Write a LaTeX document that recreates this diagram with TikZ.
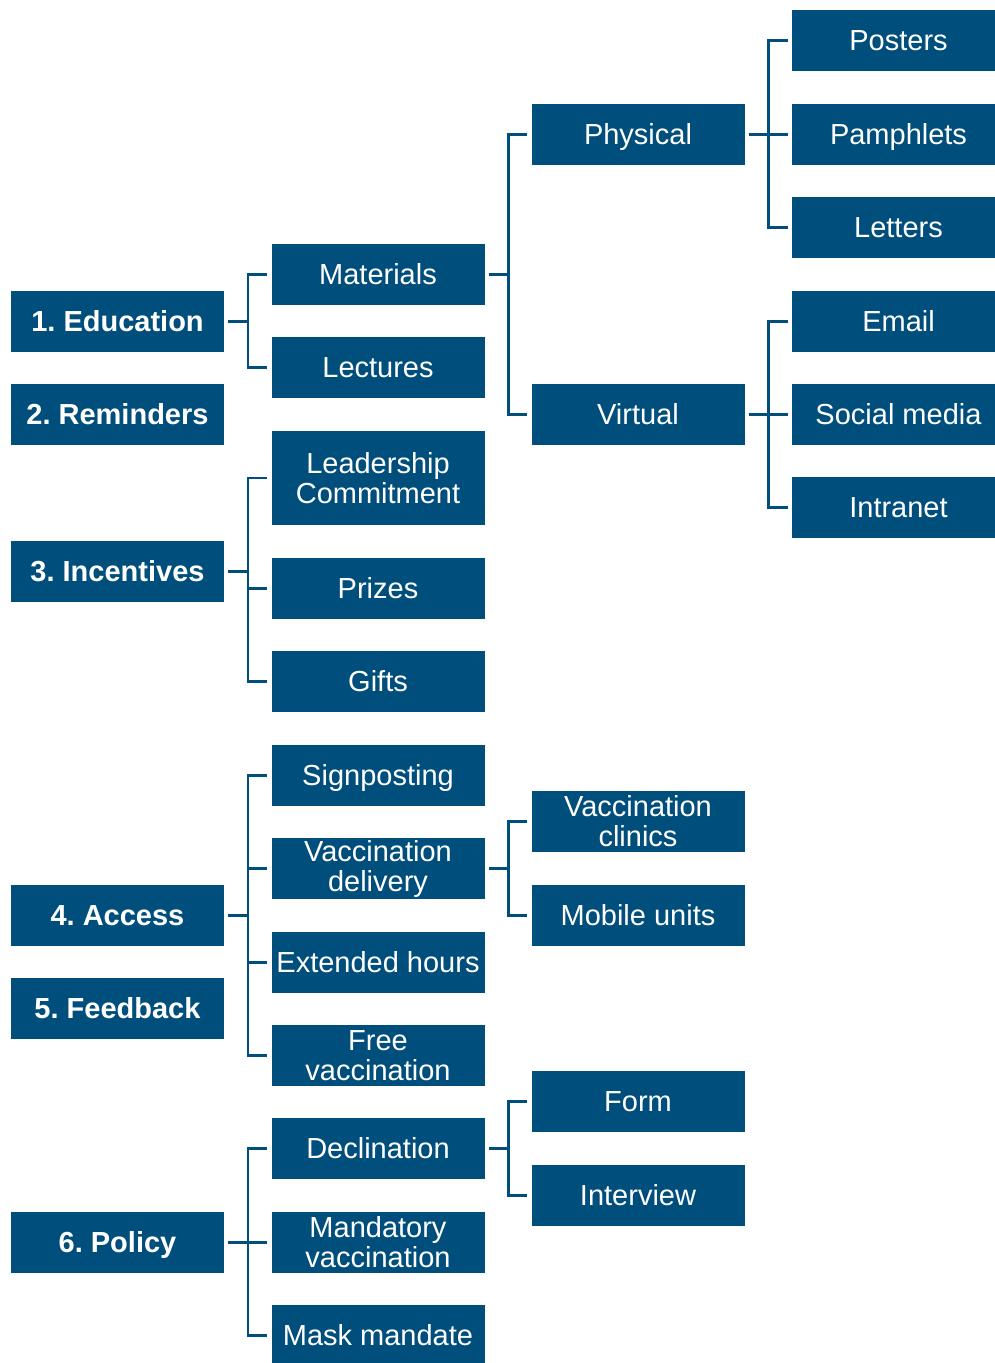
\documentclass[tikz,border=0pt]{standalone}
\usepackage{fontspec}
\setmainfont{Liberation Sans}
\frenchspacing
\definecolor{boxblue}{HTML}{004E7C}
\tikzset{
  tboxm/.style={fill=boxblue, text=white, minimum width=213pt, minimum height=61pt, inner sep=0pt, align=center, font=\fontsize{29}{30}\selectfont},
  tbox/.style={tboxm, text height=20.8pt, text depth=0pt},
  tboxb/.style={tbox, font=\fontsize{29}{30}\selectfont\bfseries},
  conn/.style={draw=boxblue, line width=2.5pt}
}
\newcommand{\branch}[2]{\draw[conn] ([xshift=4pt]#1.east) -- ++(20pt,0) |- ([xshift=-4pt]#2.west);}
\begin{document}
\begin{tikzpicture}[x=1pt,y=-1pt]
\useasboundingbox (0,0) rectangle (995,1363);
\clip (0,0) rectangle (995,1363);
% column 1
\node[tboxb] (edu) at (117.5,321.5) {1. Education};
\node[tboxb] (rem) at (117.5,414.5) {2. Reminders};
\node[tboxb] (inc) at (117.5,571.5) {3. Incentives};
\node[tboxb] (acc) at (117.5,915.5) {4. Access};
\node[tboxb] (fee) at (117.5,1008.5) {5. Feedback};
\node[tboxb] (pol) at (117.5,1242.5) {6. Policy};
% column 2
\node[tbox] (mat) at (378,274.5) {Materials};
\node[tbox] (lec) at (378,367.5) {Lectures};
\node[tboxm, minimum height=94pt] (lead) at (378,478) {Leadership\\Commitment};
\node[tbox] (pri) at (378,588.5) {Prizes};
\node[tbox] (gif) at (378,681.5) {Gifts};
\node[tbox] (sig) at (378,775.5) {Signposting};
\node[tboxm] (vdel) at (378,868.5) {Vaccination\\delivery};
\node[tbox] (ext) at (378,962.5) {Extended hours};
\node[tboxm] (free) at (378,1055.5) {Free\\vaccination};
\node[tbox] (dec) at (378,1148.5) {Declination};
\node[tboxm] (mand) at (378,1242.5) {Mandatory\\vaccination};
\node[tbox] (mask) at (378,1335.5) {Mask mandate};
% column 3
\node[tbox] (phy) at (638,134.5) {Physical};
\node[tbox] (vir) at (638,414.5) {Virtual};
\node[tboxm] (vcl) at (638,821.5) {Vaccination\\clinics};
\node[tbox] (mob) at (638,915.5) {Mobile units};
\node[tbox] (form) at (638,1101.5) {Form};
\node[tbox] (int) at (638,1195.5) {Interview};
% column 4
\node[tbox] (pos) at (898.5,40.5) {Posters};
\node[tbox] (pam) at (898.5,134.5) {Pamphlets};
\node[tbox] (let) at (898.5,227.5) {Letters};
\node[tbox] (ema) at (898.5,321.5) {Email};
\node[tbox] (soc) at (898.5,414.5) {Social media};
\node[tbox] (intr) at (898.5,507.5) {Intranet};
% connectors
\branch{edu}{mat}\branch{edu}{lec}
\branch{inc}{lead}\branch{inc}{pri}\branch{inc}{gif}
\branch{acc}{sig}\branch{acc}{vdel}\branch{acc}{ext}\branch{acc}{free}
\branch{pol}{dec}\branch{pol}{mand}\branch{pol}{mask}
\branch{mat}{phy}\branch{mat}{vir}
\branch{vdel}{vcl}\branch{vdel}{mob}
\branch{dec}{form}\branch{dec}{int}
\branch{phy}{pos}\branch{phy}{pam}\branch{phy}{let}
\branch{vir}{ema}\branch{vir}{soc}\branch{vir}{intr}
\end{tikzpicture}
\end{document}
